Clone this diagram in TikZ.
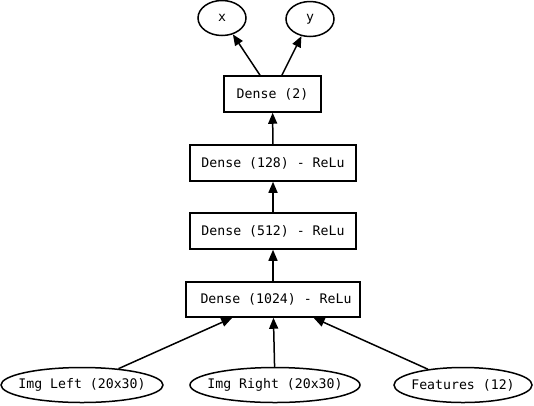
\documentclass[tikz,border=0pt]{standalone}
\usepackage{fontspec}
\setmonofont{DejaVu Sans Mono}
\usetikzlibrary{arrows.meta,shapes.geometric}
\begin{document}
\begin{tikzpicture}[x=1pt,y=-1pt,
  every node/.style={font=\ttfamily\fontsize{13.2}{15}\selectfont, line width=1.5pt, draw, inner sep=0pt},
  layer/.style={rectangle, minimum height=36pt},
  io/.style={ellipse, minimum height=35pt},
  conn/.style={line width=1.5pt, -{Triangle[length=11pt,width=9pt]}}]
\useasboundingbox (0,0) rectangle (534,405);
\node[io, minimum width=48pt] (x) at (222,18) {\makebox[0pt]{x}};
\node[io, minimum width=48pt] (y) at (310,19) {\makebox[0pt]{y}};
\node[layer, minimum width=97pt] (d2) at (272.5,94) {Dense (2)};
\node[layer, minimum width=166pt] (d128) at (273,163) {Dense (128) - ReLu};
\node[layer, minimum width=166pt] (d512) at (273,231) {Dense (512) - ReLu};
\node[layer, minimum width=174pt, minimum height=35pt] (d1024) at (273,299.5) {\hspace{6pt}Dense (1024) - ReLu};
\node[io, minimum width=162pt] (il) at (82,385) {\makebox[0pt]{Img Left (20x30)}};
\node[io, minimum width=170pt] (ir) at (275,385) {\makebox[0pt]{Img Right (20x30)}};
\node[io, minimum width=138pt] (ft) at (463,385) {\makebox[0pt]{Features (12)}};
\draw[conn] (il) -- (d1024);
\draw[conn] (ir) -- (d1024);
\draw[conn] (ft) -- (d1024);
\draw[conn] (d1024) -- (d512);
\draw[conn] (d512) -- (d128);
\draw[conn] (d128) -- (d2);
\draw[conn] (d2) -- (x);
\draw[conn] (d2) -- (y);
\end{tikzpicture}
\end{document}
